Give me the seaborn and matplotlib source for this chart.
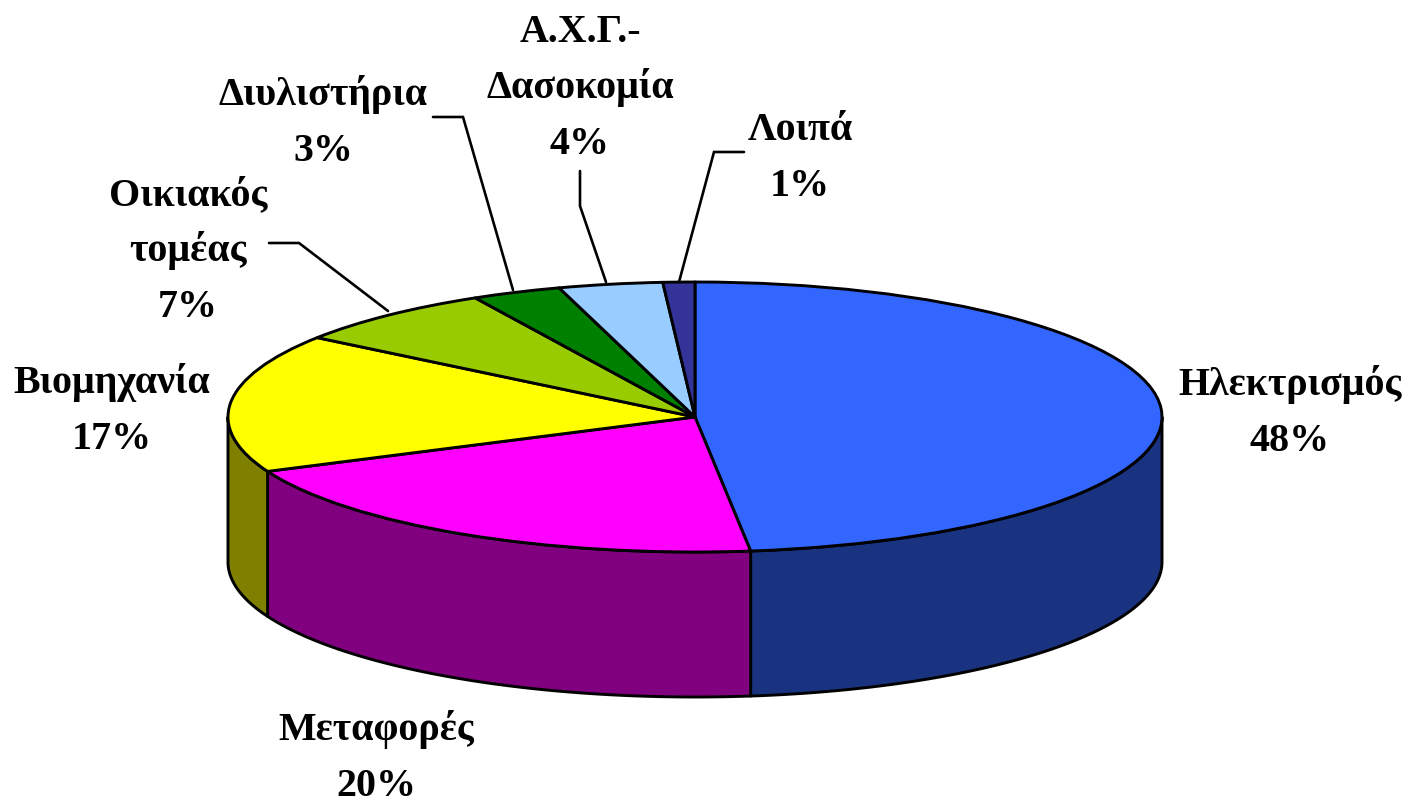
import numpy as np
import matplotlib
matplotlib.use("Agg")
import matplotlib.pyplot as plt
import seaborn as sns

sectors = ["Ηλεκτρισμός", "Μεταφορές", "Βιομηχανία", "Οικιακός\nτομέας", "Διυλιστήρια", "Α.Χ.Γ.-\nΔασοκομία", "Λοιπά"]
shares = [48.1, 20.3, 16.6, 7.2, 3.1, 3.6, 1.1]
top_colors = ["#3366FF", "#FF00FF", "#FFFF00", "#99CC00", "#008000", "#99CCFF", "#333399"]
side_colors = ["#1A3380", "#800080", "#808000", "#4D6600", "#004000", "#4D6680", "#1A1A4D"]

# centre x and first-line baseline y of each label, in figure pixels
label_xy = [(1290, 395), (376, 740), (112, 393), (188, 205), (323, 105), (580, 42), (800, 140)]
leaders = [
    [(744, 153), (714, 153), (679, 283)],
    [(580, 172), (580, 207), (606, 283)],
    [(433, 118), (463, 118), (513, 291)],
    [(269, 244), (299, 244), (388, 312)],
]

W, H = 1415, 803
CX, CY, RX, RY, DEPTH = 695, 418, 467, 135, 145
LW = 2.1
LINE_STEP = 56

sns.set_theme(style="white")
plt.rcParams["font.family"] = ["Liberation Serif", "DejaVu Serif"]
plt.rcParams["font.weight"] = "bold"

fig = plt.figure(figsize=(W / 100, H / 100), dpi=100, facecolor="white")

# Ellipse axes: the unit circle fills the top face of the pie
ax = fig.add_axes([(CX - RX) / W, (H - CY - RY) / H, 2 * RX / W, 2 * RY / H])
ax.pie(shares, colors=top_colors, startangle=90, counterclock=False, radius=1,
       wedgeprops=dict(edgecolor="black", linewidth=LW, clip_on=False, zorder=5, joinstyle="round"))
ax.set_aspect("auto")
ax.set_xlim(-1, 1)
ax.set_ylim(-1, 1)
ax.axis("off")

# Side wall of the front half
depth = DEPTH / RY
total = sum(shares)
edges = np.concatenate([[0], np.cumsum(shares)]) / total * 360
for i, color in enumerate(side_colors):
    a0, a1 = max(edges[i], 90), min(edges[i + 1], 270)
    if a1 <= a0:
        continue
    t = np.radians(np.linspace(a0, a1, 80))
    x, y = np.sin(t), np.cos(t)
    ax.fill(np.r_[x, x[::-1]], np.r_[y, y[::-1] - depth], facecolor=color,
            edgecolor="black", linewidth=LW, clip_on=False, zorder=2, joinstyle="round")

# Overlay in figure pixels for labels and leader lines
ov = fig.add_axes([0, 0, 1, 1], facecolor="none")
ov.set_xlim(0, W)
ov.set_ylim(H, 0)
ov.axis("off")
for name, share, (lx, ly) in zip(sectors, shares, label_xy):
    for k, line in enumerate(name.split("\n") + [f"{share:.0f}%"]):
        ov.text(lx, ly + k * LINE_STEP, line, ha="center", va="baseline", fontsize=28.8,
                fontweight="bold", color="black")
for pts in leaders:
    xs, ys = zip(*pts)
    ov.plot(xs, ys, color="black", lw=1.9, solid_joinstyle="miter")

fig.savefig("out.png", dpi=100, facecolor="white")
